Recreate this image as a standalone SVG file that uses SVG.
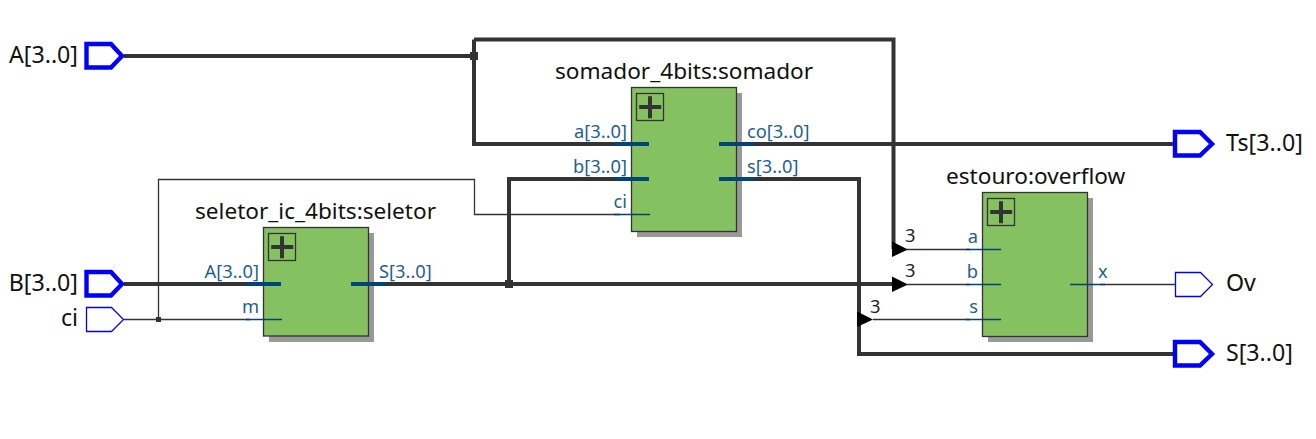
<svg xmlns="http://www.w3.org/2000/svg" width="1316" height="439" viewBox="0 0 1316 439">
<style>
text{font-family:"Noto Sans","Open Sans","DejaVu Sans",sans-serif}
.t{font-size:22.6px;fill:#111}
.l{font-size:23.2px;fill:#111}
.p{font-size:18.3px;fill:#1f5f8f}
.n{font-size:18.3px;fill:#222}
.e{text-anchor:end}
.bus{fill:none;stroke:#333;stroke-width:4;stroke-linejoin:miter}
.w{fill:none;stroke:#333;stroke-width:1.3}
.sb{fill:none;stroke:#004575;stroke-width:4}
.st{fill:none;stroke:#004575;stroke-width:1.3}
.box{fill:#85c061;stroke:#333;stroke-width:1.3}
.sh{fill:#999}
.ic{fill:none;stroke:#333;stroke-width:1.3}
.pl{fill:#333}
.pinb{fill:#fff;stroke:#0000ff;stroke-width:4.400}
.pint{fill:#fff;stroke:#0000ff;stroke-width:1.3}
</style>
<defs>
<g id="plus"><rect class="ic" x="0" y="0" width="27" height="27"/><rect class="pl" x="2.700" y="11.500" width="22" height="4"/><rect class="pl" x="11.500" y="2.700" width="4" height="22"/></g>
</defs>
<g id="connectors">
<path class="bus" d="M124 56H474M474 39.500H893.500V249M474 39.500V144H1176"/>
<path class="bus" d="M124 284H893"/>
<path class="bus" d="M509 284V179H620"/>
<path class="bus" d="M750 179H859V354H1176"/>
<path class="w" d="M124 319.500H250M158.500 319.500V179.500H474.500V214.500H620"/>
<path class="w" d="M907 249.500H970M907 284.500H970M873 319.500H970M1100 284.500H1176"/>
<rect x="470" y="52" width="8" height="8" fill="#333"/>
<rect x="505" y="280" width="8" height="8" fill="#333"/>
<rect x="156" y="317" width="5" height="5" fill="#333"/>
<path d="M892 241.500L908 249.500L892 257Z" fill="#000"/>
<path d="M892 276.500L908 284.500L892 292Z" fill="#000"/>
<path d="M857 311.500L873 319.500L857 327Z" fill="#000"/>
</g>
<g id="node-a"><path class="pinb" d="M86.500 44H111L122 56L111 67.500H86.500Z"/><text class="l e" x="78" y="63">A[3..0]</text></g>
<g id="node-b"><path class="pinb" d="M86.500 272H111L122 284L111 295.500H86.500Z"/><text class="l e" x="78" y="291">B[3..0]</text></g>
<g id="node-ci"><path class="pint" d="M86.500 307.500H111.500L123.500 319.500L111.500 331.500H86.500Z"/><text class="l e" x="78" y="326">ci</text></g>
<g id="node-ts"><path class="pinb" d="M1175 132H1200L1212 144L1200 155.500H1175Z"/><text class="l" x="1226" y="151">Ts[3..0]</text></g>
<g id="node-ov"><path class="pint" d="M1175.500 272.500H1200.500L1212.500 284.500L1200.500 296.500H1175.500Z"/><text class="l" x="1226" y="291">Ov</text></g>
<g id="node-s"><path class="pinb" d="M1175 342H1200L1212 354L1200 365.500H1175Z"/><text class="l" x="1226" y="361">S[3..0]</text></g>
<g id="seletor">
<rect class="sh" x="269" y="233" width="105" height="109"/>
<rect class="box" x="263.500" y="227.500" width="105" height="108.500"/>
<use href="#plus" x="268.500" y="233.500"/>
<text class="t" x="195" y="219">seletor_ic_4bits:seletor</text>
<path class="sb" d="M246 284H281M351 284H386"/><path class="st" d="M246 319.500H282"/>
<text class="p e" x="259" y="278">A[3..0]</text><text class="p e" x="259" y="313">m</text><text class="p" x="379" y="278">S[3..0]</text>
</g>
<g id="somador">
<rect class="sh" x="637" y="93" width="105" height="144"/>
<rect class="box" x="631.500" y="87.500" width="105" height="144"/>
<use href="#plus" x="636.500" y="93.500"/>
<text class="t" x="555" y="79">somador_4bits:somador</text>
<path class="sb" d="M614 144H649M614 179H649M719 144H754M719 179H754"/><path class="st" d="M614 214.500H650"/>
<text class="p e" x="627" y="138">a[3..0]</text><text class="p e" x="627" y="173">b[3..0]</text><text class="p e" x="627" y="208">ci</text>
<text class="p" x="747" y="138">co[3..0]</text><text class="p" x="747" y="173">s[3..0]</text>
</g>
<g id="estouro">
<rect class="sh" x="988" y="198" width="105" height="144"/>
<rect class="box" x="982.500" y="192.500" width="105" height="144"/>
<use href="#plus" x="987.500" y="198.500"/>
<text class="t" x="946" y="184">estouro:overflow</text>
<path class="st" d="M966 249.500H1001M966 284.500H1001M966 319.500H1001M1070 284.500H1105"/>
<text class="p e" x="978" y="243">a</text><text class="p e" x="978" y="278">b</text><text class="p e" x="978" y="313">s</text><text class="p" x="1098" y="278">x</text>
</g>
<g id="bus-widths"><text class="n" x="905" y="242">3</text><text class="n" x="905" y="277">3</text><text class="n" x="870" y="313">3</text></g>
</svg>
